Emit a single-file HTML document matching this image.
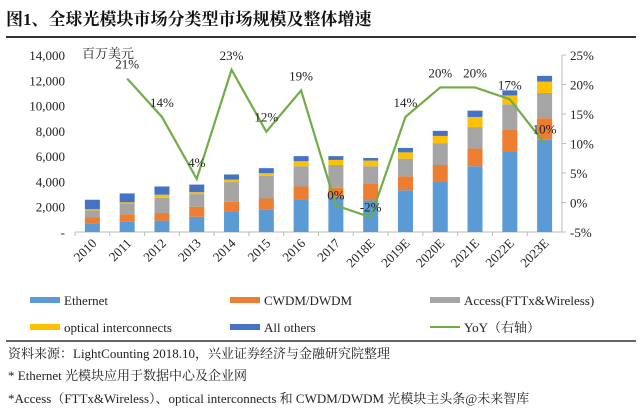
<!DOCTYPE html>
<html><head><meta charset="utf-8"><style>
body{margin:0;background:#fff;width:640px;height:411px;overflow:hidden;font-family:"Liberation Serif","Noto Serif CJK SC",serif;}
svg text{font-family:"Liberation Serif","Noto Serif CJK SC",serif;}
</style></head><body>
<svg id="c" width="640" height="411">
<text x="6" y="25" font-size="17" font-weight="bold" fill="#111">图1、全球光模块市场分类型市场规模及整体增速</text>
<line x1="6" y1="37" x2="636" y2="37" stroke="#333" stroke-width="2"/>
<text x="82" y="58" font-size="13" fill="#222">百万美元</text>
<line x1="6" y1="341" x2="636" y2="341" stroke="#333" stroke-width="1.5"/>
<text x="8" y="358" font-size="13" fill="#222">资料来源：LightCounting 2018.10，兴业证券经济与金融研究院整理</text>
<text x="8" y="380" font-size="13" fill="#222">* Ethernet 光模块应用于数据中心及企业网</text>
<text x="8" y="403" font-size="13" fill="#222">*Access（FTTx&amp;Wireless）、optical interconnects 和 CWDM/DWDM 光模块主头条@未来智库</text>
<g id="plot"></g>
</svg>
<script>
const years=["2010","2011","2012","2013","2014","2015","2016","2017","2018E","2019E","2020E","2021E","2022E","2023E"];
const ethernet=[700,800,900,1200,1650,1800,2600,2800,2500,3300,4000,5200,6400,7300];
const cwdm=[450,600,600,800,750,850,1000,700,1300,1100,1300,1400,1700,1700];
const access=[550,850,1200,1000,1550,1800,1600,1800,1400,1400,1700,1700,2000,2000];
const optical=[100,100,250,150,200,200,400,400,450,500,600,800,700,900];
const others=[750,700,650,600,400,400,400,300,200,350,400,500,400,450];
const yoy=[null,21,14.5,4,22.5,12,19,-0.5,-2.5,14.5,19.5,19.5,17.5,10];
const yoyLabels=[null,"21%","14%","4%","23%","12%","19%","0%","-2%","14%","20%","20%","17%","10%"];
const leftTicks=[0,2000,4000,6000,8000,10000,12000,14000];
const rightTicks=[-5,0,5,10,15,20,25];
const series=[["ethernet",ethernet,"#5b9bd5"],["cwdm-dwdm",cwdm,"#ed7d31"],["access",access,"#a5a5a5"],["optical-interconnects",optical,"#ffc000"],["all-others",others,"#4472c4"]];
const NS="http://www.w3.org/2000/svg",g=document.getElementById('plot');
const X0=75,X1=562,Y0=232,Y1=55;
const yL=v=>Y0-(v/14000)*(Y0-Y1);
const yR=v=>Y0-((v+5)/30)*(Y0-Y1);
const step=(X1-X0)/years.length;
const xC=i=>X0+step*(i+0.5);
function el(t,a,txt){const e=document.createElementNS(NS,t);for(const k in a)e.setAttribute(k,a[k]);if(txt!=null)e.textContent=txt;g.appendChild(e);return e;}
let e;
e=el('line',{x1:X0,y1:Y0,x2:X1,y2:Y0,stroke:'#bbb'});


e=el('line',{x1:X1,y1:Y1,x2:X1,y2:Y0,stroke:'#bbb'});


leftTicks.forEach(v=>{e=el('text',{x:X0-10,y:yL(v)+5,'font-size':13,'text-anchor':'end',fill:'#222'},v===0?'-':v.toLocaleString('en-US'));

});
rightTicks.forEach(v=>{e=el('text',{x:X1+8,y:yR(v)+5,'font-size':13,fill:'#222'},v+'%');


e=el('line',{x1:X1,y1:yR(v),x2:X1+4,y2:yR(v),stroke:'#bbb'});

});
years.forEach((y,i)=>{
 let base=0;
 series.forEach(([n,arr,c])=>{const v=arr[i];e=el('rect',{x:xC(i)-7.5,y:yL(base+v),width:15,height:yL(base)-yL(base+v),fill:c});
 
 
 base+=v;});
 e=el('line',{x1:X0+step*i,y1:Y0,x2:X0+step*i,y2:Y0+4,stroke:'#bbb'});
 
 
 const tx=xC(i)+5,ty=Y0+12;
 e=el('text',{x:tx,y:ty,'font-size':13,'text-anchor':'end',fill:'#222',transform:`rotate(-45 ${tx} ${ty})`},y);
 
 
});
let pts=[];yoy.forEach((v,i)=>{if(v!==null)pts.push(xC(i)+','+yR(v));});
e=el('polyline',{points:pts.join(' '),fill:'none',stroke:'#70ad47','stroke-width':2.2});


yoy.forEach((v,i)=>{if(v===null)return;
 let ly=yR(v)-10; if(i===3)ly=yR(v)-12; if(i===7||i===8)ly=yR(v)-6;
 e=el('text',{x:xC(i),y:ly,'font-size':13,'text-anchor':'middle',fill:'#222'},yoyLabels[i]);
 
 });
const leg=[["Ethernet","#5b9bd5",30,302,"r"],["CWDM/DWDM","#ed7d31",230,302,"r"],["Access(FTTx&Wireless)","#a5a5a5",430,302,"r"],["optical interconnects","#ffc000",30,329,"r"],["All others","#4472c4",230,329,"r"],["YoY（右轴）","#70ad47",430,329,"l"]];
leg.forEach(([t,c,x,y,k])=>{
 if(k==="r")e=el('rect',{x:x,y:y-5,width:30,height:6,fill:c});else e=el('line',{x1:x,y1:y-2,x2:x+30,y2:y-2,stroke:c,'stroke-width':2});
 
 
 e=el('text',{x:x+34,y:y+3,'font-size':13,fill:'#222'},t);
 
 
});
</script>
</body></html>
